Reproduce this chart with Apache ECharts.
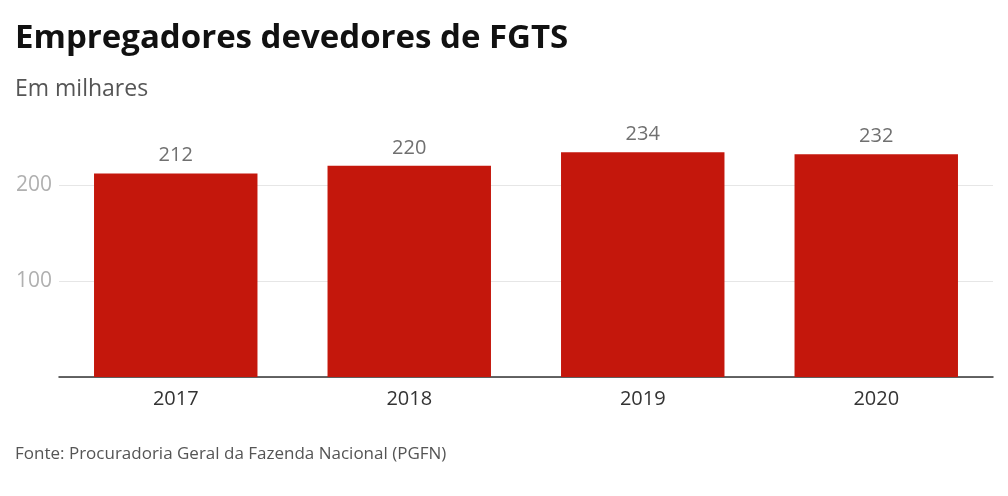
<!DOCTYPE html>
<html><head><meta charset="utf-8">
<script src="https://cdn.jsdelivr.net/npm/echarts@6/dist/echarts.min.js"></script>
<style>html,body{margin:0;padding:0;background:#fff}#c{width:1008px;height:496px}</style>
</head><body><div id="c"></div>
<script>
const categories = ['2017','2018','2019','2020'];
const values = [212, 220, 234, 232];
const yTicks = [0, 100, 200];

const chart = echarts.init(document.getElementById('c'), null, {renderer:'canvas'});
chart.setOption({
  backgroundColor:'#fff',
  animation:false,
  title:[
    {text:'Empregadores devedores de FGTS', left:10, top:17,
     textStyle:{fontFamily:'Open Sans', fontWeight:700, fontSize:33, color:'#111'}},
    {text:'Em milhares', left:10, top:73,
     textStyle:{fontFamily:'Open Sans', fontWeight:400, fontSize:23, color:'#555'}},
    {text:'Fonte: Procuradoria Geral da Fazenda Nacional (PGFN)', left:10, top:441,
     textStyle:{fontFamily:'Open Sans', fontWeight:400, fontSize:17, color:'#555'}}
  ],
  grid:{left:59, right:15, top:137, bottom:119, containLabel:false},
  xAxis:{type:'category', data:categories,
    axisLine:{lineStyle:{color:'#333', width:1.5}},
    axisTick:{show:false},
    axisLabel:{fontFamily:'Open Sans', fontSize:20, color:'#333', margin:12}},
  yAxis:{type:'value', min:0, max:250, interval:100,
    axisLine:{show:false}, axisTick:{show:false},
    axisLabel:{fontFamily:'Open Sans', fontSize:21, color:'#b0b0b0', margin:7,
      formatter:v=> yTicks.includes(v) && v!==0 ? String(v) : ''},
    splitLine:{showMaxLine:false, lineStyle:{color:'#e6e6e6', width:1}}},
  series:[{type:'bar', data:values, barWidth:'70%',
    itemStyle:{color:'#C4170C'},
    label:{show:true, position:'top', distance:8, fontFamily:'Open Sans', fontSize:20, color:'#707070'}}]
});
</script></body></html>
